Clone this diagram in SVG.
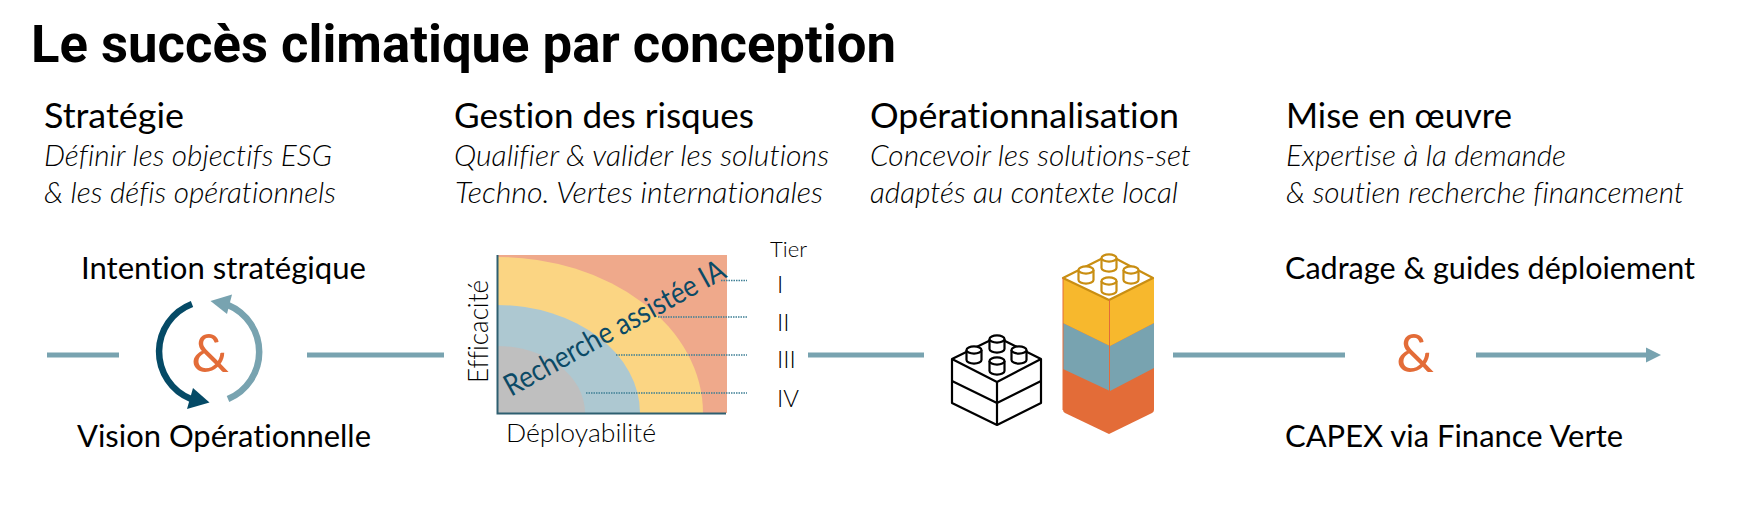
<svg xmlns="http://www.w3.org/2000/svg" width="1748" height="508" viewBox="0 0 1748 508">
<style>
text{font-family:"Lato","Liberation Sans",sans-serif;fill:#000;font-variant-ligatures:none}
.title{font-family:"Roboto","Liberation Sans",sans-serif;font-weight:700;font-size:51px}
.h{font-size:34px}
.sub{font-size:30px;font-style:italic;font-weight:300}
.lab{font-size:31px}
.amp{font-size:53px;fill:#E36C38;font-weight:400}
.ax{font-size:25px;font-weight:300}
.tier{font-size:24px;font-weight:300}
.conn{stroke:#78A3B0;stroke-width:5;fill:none}
.dot{stroke:#3F7F95;stroke-width:1.5;stroke-dasharray:1.5 1;fill:none}
.blk{fill:#fff;stroke:#000;stroke-width:2.2;stroke-linejoin:round}
.stud{fill:#fff;stroke:#C98E12;stroke-width:2.2}
</style>
<defs>
<g id="studB"><path class="blk" d="M-7.500 0V10A7.500 3.600 0 0 0 7.500 10V0"/><ellipse class="blk" rx="7.500" ry="3.600"/></g>
<g id="studC"><path class="stud" d="M-7.500 0V10A7.500 3.600 0 0 0 7.500 10V0"/><ellipse class="stud" rx="7.500" ry="3.600"/></g>
</defs>
<rect width="1748" height="508" fill="#fff"/>
<text id="title" class="title" x="31" y="62" textLength="865" lengthAdjust="spacingAndGlyphs">Le succès climatique par conception</text>

<g id="col-strategie">
<text class="h" x="44" y="128" textLength="140" lengthAdjust="spacingAndGlyphs">Stratégie</text>
<text class="sub" x="44" y="166" textLength="288" lengthAdjust="spacingAndGlyphs">Définir les objectifs ESG</text>
<text class="sub" x="44" y="203" textLength="292" lengthAdjust="spacingAndGlyphs">&amp; les défis opérationnels</text>
</g>
<g id="col-risques">
<text class="h" x="454" y="128" textLength="300" lengthAdjust="spacingAndGlyphs">Gestion des risques</text>
<text class="sub" x="454" y="166" textLength="375" lengthAdjust="spacingAndGlyphs">Qualifier &amp; valider les solutions</text>
<text class="sub" x="455" y="203" textLength="368" lengthAdjust="spacingAndGlyphs">Techno. Vertes internationales</text>
</g>
<g id="col-operation">
<text class="h" x="870" y="128" textLength="309" lengthAdjust="spacingAndGlyphs">Opérationnalisation</text>
<text class="sub" x="870" y="166" textLength="321" lengthAdjust="spacingAndGlyphs">Concevoir les solutions-set</text>
<text class="sub" x="870" y="203" textLength="308" lengthAdjust="spacingAndGlyphs">adaptés au contexte local</text>
</g>
<g id="col-oeuvre">
<text class="h" x="1286" y="128" textLength="226" lengthAdjust="spacingAndGlyphs">Mise en œuvre</text>
<text class="sub" x="1286" y="166" textLength="280" lengthAdjust="spacingAndGlyphs">Expertise à la demande</text>
<text class="sub" x="1286" y="203" textLength="398" lengthAdjust="spacingAndGlyphs">&amp; soutien recherche financement</text>
</g>

<g id="connectors">
<line class="conn" x1="47" y1="355" x2="119" y2="355"/>
<line class="conn" x1="307" y1="355" x2="444" y2="355"/>
<line class="conn" x1="808" y1="355" x2="924" y2="355"/>
<line class="conn" x1="1173" y1="355" x2="1345" y2="355"/>
<line class="conn" x1="1476" y1="355" x2="1648" y2="355"/>
<path d="M1646 347.500L1661 355L1646 362.500Z" fill="#78A3B0"/>
</g>

<g id="cycle">
<text class="lab" x="81" y="279" textLength="285" lengthAdjust="spacingAndGlyphs">Intention stratégique</text>
<text class="lab" x="77" y="447" textLength="294" lengthAdjust="spacingAndGlyphs">Vision Opérationnelle</text>
<path d="M192 304A51 51 0 0 0 191 399" fill="none" stroke="#054A66" stroke-width="6.500"/>
<path d="M209.500 402.500L187 409L193 388Z" fill="#054A66"/>
<path d="M228 399A51 51 0 0 0 228 305" fill="none" stroke="#78A3B0" stroke-width="6.500"/>
<path d="M210.500 301L232 294.500L227 314Z" fill="#78A3B0"/>
<text class="amp" x="210" y="372" text-anchor="middle">&amp;</text>
</g>

<g id="chart">
<rect x="497" y="255" width="230" height="158" fill="#EFA98B"/>
<path d="M497 257A206 156 0 0 1 703 413H497Z" fill="#FBD583"/>
<path d="M497 305A143 108 0 0 1 640 413H497Z" fill="#ADC8D1"/>
<path d="M497 346A88 67 0 0 1 585 413H497Z" fill="#BFBFBF"/>
<path d="M497.500 255V413.500H726" fill="none" stroke="#2E5F70" stroke-width="2"/>
<line class="dot" x1="721" y1="280.500" x2="747" y2="280.500"/>
<line class="dot" x1="658" y1="317" x2="747" y2="317"/>
<line class="dot" x1="616" y1="355" x2="747" y2="355"/>
<line class="dot" x1="586" y1="393" x2="747" y2="393"/>
<text transform="translate(511 397) rotate(-29)" font-size="30" style="fill:#0B4A66" textLength="248" lengthAdjust="spacingAndGlyphs">Recherche assistée IA</text>
<text class="ax" style="font-size:27px" transform="translate(488 383) rotate(-90)" textLength="103" lengthAdjust="spacingAndGlyphs">Efficacité</text>
<text class="ax" x="506" y="442" textLength="150" lengthAdjust="spacingAndGlyphs">Déployabilité</text>
<text class="tier" style="font-size:22px" x="770" y="257" textLength="37" lengthAdjust="spacingAndGlyphs">Tier</text>
<text class="tier" x="777" y="293">I</text>
<text class="tier" x="777" y="331">II</text>
<text class="tier" x="777" y="368">III</text>
<text class="tier" x="777" y="407">IV</text>
</g>

<g id="brick-black">
<path class="blk" d="M952 359L997 337L1041 359V403L997 425L952 403Z"/>
<path class="blk" style="fill:none" d="M952 359L997 382L1041 359M952 381L997 403L1041 381M997 382V425"/>
<use href="#studB" x="974" y="350"/>
<use href="#studB" x="997" y="339"/>
<use href="#studB" x="1019" y="350"/>
<use href="#studB" x="997" y="361"/>
</g>

<g id="brick-colour">
<path d="M1063 410V278L1109 255L1154 278V410Q1154 412 1152 413L1109 434L1065 413Q1063 412 1063 410Z" fill="#E36C38"/>
<path d="M1063 323L1110 346L1154 323V368L1110 391L1063 369Z" fill="#78A3B0"/>
<path d="M1063 278L1109 300L1154 278V323L1110 346L1063 323Z" fill="#F7B82D"/>
<path d="M1063 278L1109 255L1153 278L1109 300Z" fill="#fff" stroke="#C98E12" stroke-width="2.200" stroke-linejoin="round"/>
<path d="M1063 278V410M1109.500 300V391" fill="none" stroke="#E36C38" stroke-width="1"/>
<use href="#studC" x="1086" y="270"/>
<use href="#studC" x="1109" y="258"/>
<use href="#studC" x="1131" y="270"/>
<use href="#studC" x="1109" y="281"/>
</g>

<g id="deploy">
<text class="lab" x="1285" y="279" textLength="410" lengthAdjust="spacingAndGlyphs">Cadrage &amp; guides déploiement</text>
<text class="lab" x="1285" y="447" textLength="338" lengthAdjust="spacingAndGlyphs">CAPEX via Finance Verte</text>
<text class="amp" x="1415" y="372" text-anchor="middle">&amp;</text>
</g>
</svg>
